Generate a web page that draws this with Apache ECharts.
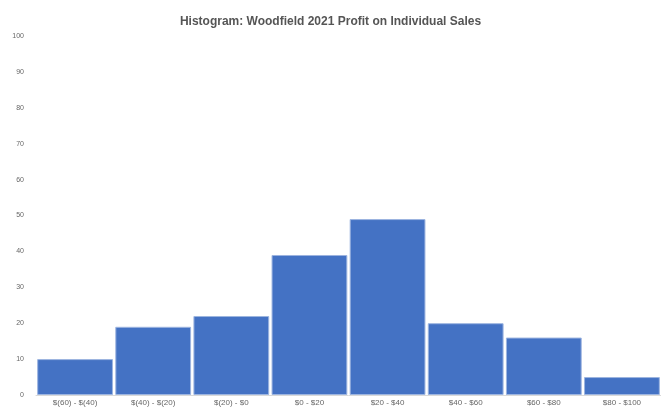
<!DOCTYPE html>
<html>
<head>
<meta charset="utf-8">
<script src="https://cdn.jsdelivr.net/npm/echarts@6/dist/echarts.min.js"></script>
<style>html,body{margin:0;padding:0;background:#fff;}#c{width:661px;height:408px;}</style>
</head>
<body>
<div id="c"></div>
<script>
const titleText = "Histogram: Woodfield 2021 Profit on Individual Sales";
const categories = ["$(60) - $(40)", "$(40) - $(20)", "$(20) - $0", "$0 - $20", "$20 - $40", "$40 - $60", "$60 - $80", "$80 - $100"];
const counts = [10, 19, 22, 39, 49, 20, 16, 5];
const yTicks = { min: 0, max: 100, interval: 10 };

const chart = echarts.init(document.getElementById('c'));
chart.setOption({
  animation: false,
  title: {
    text: titleText, left: 'center', top: 11,
    textStyle: { fontFamily: 'Liberation Sans', fontSize: 12, fontWeight: 'bold', color: '#555' }
  },
  grid: { left: 36, right: 0, top: 36, bottom: 13 },
  xAxis: {
    type: 'category', data: categories,
    axisLine: { show: true, lineStyle: { color: '#d9d9d9' } },
    axisTick: { show: false },
    axisLabel: { fontFamily: 'Liberation Sans', fontSize: 8, color: '#666', margin: 4, interval: 0 }
  },
  yAxis: {
    type: 'value', min: yTicks.min, max: yTicks.max, interval: yTicks.interval,
    axisLine: { show: false }, axisTick: { show: false },
    splitLine: { show: false },
    axisLabel: { fontFamily: 'Liberation Sans', fontSize: 7, color: '#666', margin: 12 }
  },
  series: [{
    type: 'bar', data: counts, barCategoryGap: '3%',
    itemStyle: { color: '#4472C4', borderColor: '#9db5e0', borderWidth: 1 }
  }]
});
</script>
</body>
</html>
